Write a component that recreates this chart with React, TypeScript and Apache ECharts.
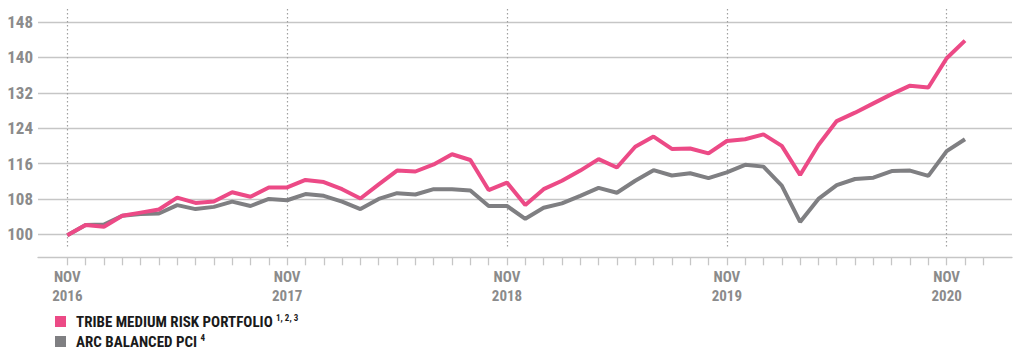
import React, { useEffect, useRef } from "react";
import * as echarts from "echarts";

const MONTHS = ["JAN", "FEB", "MAR", "APR", "MAY", "JUN", "JUL", "AUG", "SEP", "OCT", "NOV", "DEC"];
const START_MONTH = 10; // NOV
const START_YEAR = 2016;
const N_CATEGORIES = 51; // Nov 2016 .. Jan 2021
const categories: string[] = [];
for (let i = 0; i < N_CATEGORIES; i++) {
  const m = (START_MONTH + i) % 12;
  const y = START_YEAR + Math.floor((START_MONTH + i) / 12);
  categories.push(`${MONTHS[m]} ${y}`);
}

const Y_TICKS_MIN = 100;
const Y_TICKS_MAX = 148;
const Y_INTERVAL = 8;

const tribeName = "TRIBE MEDIUM RISK PORTFOLIO";
const tribeNote = "1, 2, 3";
const arcName = "ARC BALANCED PCI";
const arcNote = "4";

const tribe = [
  99.8, 102.1, 101.7, 104.2, 104.9, 105.6, 108.3, 107.1, 107.4, 109.5,
  108.5, 110.6, 110.6, 112.3, 111.8, 110.2, 108.1, 111.3, 114.4, 114.2,
  115.8, 118.1, 116.8, 110.0, 111.7, 106.6, 110.2, 112.1, 114.4, 117.0,
  115.1, 119.8, 122.1, 119.3, 119.4, 118.3, 121.1, 121.5, 122.6, 120.0,
  113.4, 120.2, 125.6, 127.5, 129.6, 131.7, 133.6, 133.2, 139.8, 143.8,
];

const arc = [
  99.8, 102.1, 102.2, 104.2, 104.6, 104.7, 106.6, 105.7, 106.2, 107.4,
  106.4, 108.0, 107.7, 109.1, 108.7, 107.4, 105.7, 108.0, 109.3, 109.0,
  110.2, 110.2, 109.9, 106.4, 106.4, 103.5, 106.0, 107.0, 108.7, 110.5,
  109.4, 112.1, 114.5, 113.3, 113.8, 112.7, 114.0, 115.7, 115.3, 111.0,
  102.8, 108.0, 111.1, 112.5, 112.8, 114.3, 114.4, 113.2, 118.8, 121.5,
];

const PINK = "#ec4a86";
const GRAY = "#7f7f82";
const GRID_LINE = "#c6c6c6";
const LABEL = "#8b8b8b";
const FONT = "'Liberation Sans Narrow', 'Roboto Condensed', Roboto, sans-serif";

export default function App() {
  const ref = useRef<HTMLDivElement>(null);

  useEffect(() => {
    if (!ref.current) return;
    const chart = echarts.init(ref.current, undefined, { renderer: "svg" });

    const plotTop = 22;
    const plotBottom = 356 - 234.3;
    const catLeft = 67.3;
    const catRight = 1024 - 983.3;

    chart.setOption({
      animation: false,
      backgroundColor: "#ffffff",
      grid: [
        { left: 38, right: 12, top: plotTop, bottom: plotBottom },
        { left: catLeft, right: catRight, top: plotTop, bottom: plotBottom },
        { left: catLeft, right: catRight, top: 9, bottom: 356 - 247 },
      ],
      xAxis: [
        {
          gridIndex: 0,
          type: "value",
          min: 0,
          max: 1,
          offset: 23,
          axisLine: { show: true, lineStyle: { color: GRID_LINE, width: 1.3 } },
          axisTick: { show: false },
          axisLabel: { show: false },
          splitLine: { show: false },
        },
        {
          gridIndex: 1,
          type: "category",
          data: categories,
          boundaryGap: false,
          offset: 23,
          axisLine: { show: false },
          axisTick: {
            show: true,
            length: 8,
            interval: 0,
            lineStyle: { color: GRID_LINE, width: 1.3 },
          },
          axisLabel: {
            show: true,
            interval: (idx: number) => idx % 12 === 0,
            margin: 10,
            formatter: (v: string) => v.replace(" ", "\n"),
            color: LABEL,
            fontFamily: FONT,
            fontWeight: "bold",
            fontSize: 15,
            lineHeight: 19,
          },
          splitLine: { show: false },
        },
        {
          gridIndex: 2,
          type: "category",
          data: categories,
          boundaryGap: false,
          axisLine: { show: false },
          axisTick: { show: false },
          axisLabel: { show: false },
          splitLine: {
            show: true,
            interval: (idx: number) => idx % 12 === 0,
            lineStyle: { color: "#a0a0a0", type: [1.5, 2.5], width: 1.2 },
          },
        },
      ],
      yAxis: [
        {
          gridIndex: 0,
          type: "value",
          min: Y_TICKS_MIN,
          max: Y_TICKS_MAX,
          interval: Y_INTERVAL,
          axisLine: { show: false },
          axisTick: { show: false },
          axisLabel: {
            margin: 5,
            color: LABEL,
            fontFamily: FONT,
            fontWeight: "bold",
            fontSize: 17,
          },
          splitLine: { show: true, lineStyle: { color: GRID_LINE, width: 1.3 } },
        },
        {
          gridIndex: 1,
          type: "value",
          min: Y_TICKS_MIN,
          max: Y_TICKS_MAX,
          show: false,
        },
        {
          gridIndex: 2,
          type: "value",
          min: 0,
          max: 1,
          show: false,
        },
      ],
      legend: {
        orient: "vertical",
        left: 55,
        top: 313.5,
        height: 60,
        padding: 0,
        itemWidth: 11,
        itemHeight: 11,
        itemGap: 4,
        icon: "rect",
        data: [tribeName, arcName],
        formatter: (name: string) =>
          name === tribeName
            ? `{a|${tribeName}} {s|${tribeNote}}`
            : `{a|${arcName}} {s|${arcNote}}`,
        textStyle: {
          lineHeight: 16,
          rich: {
            a: {
              fontFamily: FONT,
              fontWeight: "bold",
              fontSize: 15,
              lineHeight: 16,
              color: "#1a1a1a",
              padding: [0, 0, 0, 5],
            },
            s: {
              fontFamily: FONT,
              fontWeight: "bold",
              fontSize: 9,
              lineHeight: 9,
              color: "#1a1a1a",
              padding: [0, 0, 7, 0],
            },
          },
        },
      },
      series: [
        {
          name: arcName,
          type: "line",
          xAxisIndex: 1,
          yAxisIndex: 1,
          data: arc,
          symbol: "none",
          clip: false,
          lineStyle: { color: GRAY, width: 4 },
          itemStyle: { color: GRAY },
          z: 3,
        },
        {
          name: tribeName,
          type: "line",
          xAxisIndex: 1,
          yAxisIndex: 1,
          data: tribe,
          symbol: "none",
          clip: false,
          lineStyle: { color: PINK, width: 4 },
          itemStyle: { color: PINK },
          z: 4,
        },
      ],
    });

    return () => chart.dispose();
  }, []);

  return (
    <div
      ref={ref}
      style={{ position: "fixed", left: 0, top: 0, width: 1024, height: 356, background: "#fff" }}
    />
  );
}
